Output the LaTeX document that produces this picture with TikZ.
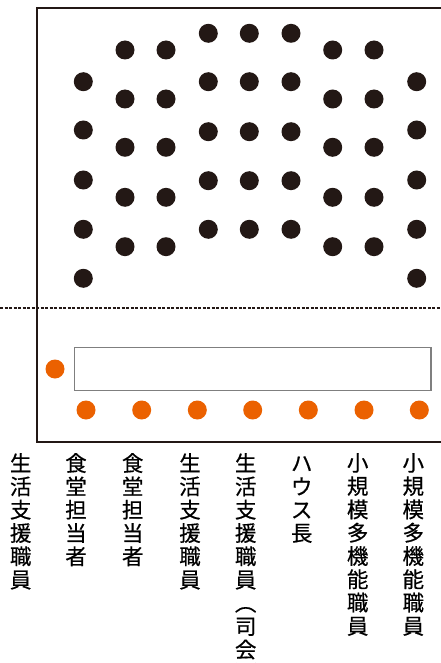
\documentclass[tikz,border=0pt]{standalone}
\usepackage{fontspec}
\newfontfamily\cjk[FakeBold=0.5]{Noto Sans CJK JP}
\definecolor{inkblack}{HTML}{231815}
\definecolor{seatorange}{HTML}{EB6100}
\definecolor{tablegray}{HTML}{7F7F7F}
\tikzset{
  guest/.style={circle,fill=inkblack,inner sep=0pt,minimum size=19pt},
  staff/.style={circle,fill=seatorange,inner sep=0pt,minimum size=19pt},
  role/.style={anchor=north,align=center,inner sep=0pt,text=black,
    font=\cjk\fontsize{21.5}{23.3}\selectfont},
}
\begin{document}
\begin{tikzpicture}[x=1pt,y=-1pt]
\useasboundingbox (0,0) rectangle (441,663);
% frame
\draw[inkblack,line width=1.3pt] (445,8) -- (37,8) -- (37,442) -- (445,442);
% dashed divider
\draw[inkblack,line width=1.4pt,dash pattern=on 3pt off 1.5pt] (0,308) -- (441,308);
% guest seats
\foreach \x [count=\c] in {83.3,416.7}
  \foreach \y [count=\r] in {81.7,130,180,229.3,278.3}
    \node[guest] (ga\c\r) at (\x,\y) {};
\foreach \x [count=\c] in {125,166,332.7,374}
  \foreach \y [count=\r] in {50,99,147.3,197.3,246.7}
    \node[guest] (gb\c\r) at (\x,\y) {};
\foreach \x [count=\c] in {208.3,249.3,291}
  \foreach \y [count=\r] in {33.3,81.7,131.7,180.7,229.3}
    \node[guest] (gc\c\r) at (\x,\y) {};
% table
\node[draw=tablegray,line width=1.5pt,inner sep=0pt,minimum width=356.7pt,minimum height=43pt] (table) at (252.7,369.2) {};
% staff
\node[staff] (s0) at (55,369) {};
\foreach \x [count=\i] in {86,141.7,197.3,252.7,308.3,364,419.3}
  \node[staff] (s\i) at (\x,410) {};
% role labels
\node[role] (r1) at (20.7,453) {生\\活\\支\\援\\職\\員};
\node[role] (r2) at (76,453) {食\\堂\\担\\当\\者};
\node[role] (r3) at (132.7,453) {食\\堂\\担\\当\\者};
\node[role] (r4) at (190,453) {生\\活\\支\\援\\職\\員};
\node[role] (r5) at (245.7,453) {生\\活\\支\\援\\職\\員\\︵\\司\\会\\︶};
\node[role] (r6) at (301.7,453) {\vphantom{生}ハ\\ウ\\ス\\長};
\node[role] (r7) at (357.7,453) {小\\規\\模\\多\\機\\能\\職\\員};
\node[role] (r8) at (413.3,453) {小\\規\\模\\多\\機\\能\\職\\員};
\end{tikzpicture}
\end{document}
